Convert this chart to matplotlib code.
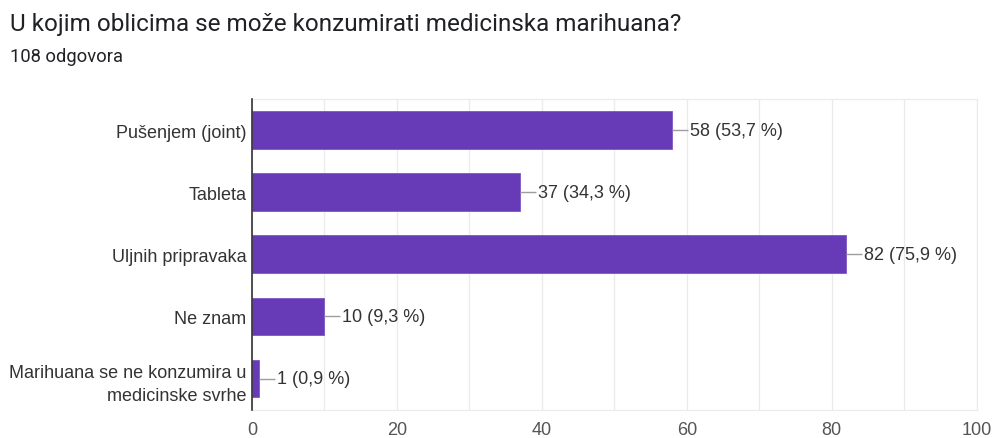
import matplotlib
matplotlib.use("Agg")
import numpy as np
from matplotlib import pyplot as plt

# podaci iz ankete
categories = ["Pušenjem (joint)", "Tableta", "Uljnih pripravaka", "Ne znam",
              "Marihuana se ne konzumira u\nmedicinske svrhe"]
counts = [58, 37, 82, 10, 1]
percents = ["53,7", "34,3", "75,9", "9,3", "0,9"]
x_ticks = [0, 20, 40, 60, 80, 100]

chart_font = ['Liberation Sans', 'DejaVu Sans']
title_font = ['Roboto', 'DejaVu Sans']
plt.rcParams['font.family'] = chart_font

fig = plt.figure(figsize=(9.93, 4.39), dpi=100)
ax = fig.add_axes([252 / 993, 1 - 410.7 / 439, (976.7 - 252) / 993, 310.7 / 439])

y = np.arange(len(categories))
ax.barh(y, counts, height=0.607, color='#673ab7', edgecolor='#7e57c2', linewidth=0.6, zorder=3)

# vodilice i oznake vrijednosti
for yi, c, p in zip(y, counts, percents):
    ax.plot([c, c + 2.2], [yi, yi], color='#9e9e9e', lw=1.0, zorder=3, solid_capstyle='butt')
    ax.text(c + 2.4, yi, f"{c} ({p} %)", va='center', ha='left', fontsize=13, color='#333333')

ax.set_xlim(0, 100)
ax.set_ylim(len(categories) - 0.5, -0.5)
ax.set_xticks(x_ticks)
ax.set_xticks(np.arange(10, 100, 20), minor=True)
ax.set_yticks(y)
ax.set_yticklabels(categories, fontsize=13, color='#333333', linespacing=1.5)
ax.tick_params(axis='both', length=0, pad=4)
ax.tick_params(axis='x', which='major', labelsize=13, labelcolor='#555555', pad=8)
ax.tick_params(axis='x', which='minor', length=0)
ax.grid(axis='x', which='both', color='#ebebeb', lw=1.0, zorder=0)

for s in ['top', 'right', 'bottom']:
    ax.spines[s].set_color('#ebebeb')
ax.spines['left'].set_color('#333333')
ax.spines['left'].set_linewidth(1.2)
ax.spines['left'].set_zorder(4)

fig.text(10 / 993, 1 - 25 / 439, "U kojim oblicima se može konzumirati medicinska marihuana?",
         fontsize=17.5, color='#202124', va='center', ha='left', family=title_font)
fig.text(10 / 993, 1 - 57 / 439, "108 odgovora", fontsize=13.2, color='#202124',
         va='center', ha='left', family=title_font)

fig.savefig("out.png", dpi=100)
